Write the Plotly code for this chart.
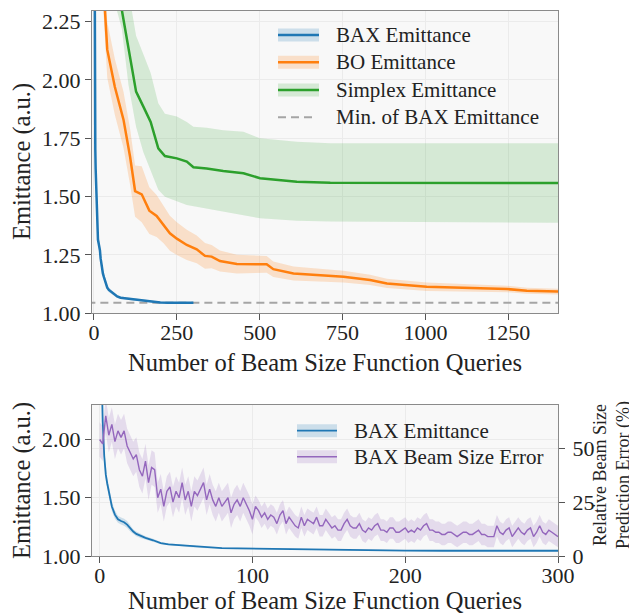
import plotly.graph_objects as go

# The page adds an 8px body margin; every layout position below is given in
# reference (viewport) pixels and shifted by that margin.
W, H, OFF = 637, 614, 8
FONT = "Liberation Serif, DejaVu Serif, Times New Roman, serif"

# ---------------- data ----------------
# BAX emittance (shared by both panels)
bax_x = [0, 1, 2, 3, 4, 5, 6, 8, 10, 12, 14, 16, 18, 20, 22, 24, 27, 30, 35, 40, 45, 50,
         60, 70, 80, 90, 100, 120, 140, 160, 180, 200, 225, 250, 275, 300]
bax_y = [3.4, 2.6, 2.15, 1.86, 1.70, 1.62, 1.56, 1.425, 1.355, 1.315, 1.30, 1.29, 1.27, 1.235,
         1.21, 1.19, 1.17, 1.155, 1.135, 1.11, 1.10, 1.095, 1.083, 1.072, 1.067, 1.065, 1.063,
         1.06, 1.057, 1.052, 1.048, 1.046, 1.045, 1.045, 1.045, 1.045]
bax_sd = [0.08, 0.07, 0.06, 0.05, 0.05, 0.045, 0.045, 0.04, 0.035, 0.03, 0.03, 0.03, 0.03, 0.025,
          0.02, 0.02, 0.018, 0.015, 0.012, 0.01, 0.01, 0.008, 0.007, 0.006, 0.006, 0.005, 0.005,
          0.005, 0.004, 0.004, 0.004, 0.003, 0.003, 0.003, 0.003, 0.003]
bax_min = 1.045

# BO emittance
bo_x = [0, 10, 20, 33, 40, 63, 89, 109, 124, 144, 167, 189, 210, 229, 250, 280, 310, 335, 355,
        380, 431, 521, 541, 602, 672, 753, 833, 884, 1004, 1135, 1246, 1306, 1400]
bo_y = [3.2, 2.8, 2.55, 2.30, 2.13, 1.97, 1.83, 1.67, 1.524, 1.51, 1.44, 1.417, 1.38, 1.343, 1.32,
        1.293, 1.274, 1.246, 1.243, 1.224, 1.211, 1.21, 1.189, 1.171, 1.164, 1.157, 1.143, 1.128,
        1.114, 1.11, 1.104, 1.097, 1.093]
bo_sd = [0.2, 0.15, 0.13, 0.12, 0.12, 0.12, 0.12, 0.12, 0.11, 0.12, 0.10, 0.09, 0.08, 0.075, 0.07,
         0.065, 0.06, 0.055, 0.05, 0.045, 0.04, 0.036, 0.033, 0.03, 0.028, 0.025, 0.022, 0.02,
         0.018, 0.016, 0.014, 0.013, 0.012]

# Simplex emittance
sx_x = [0, 40, 84, 104, 127, 149, 171, 194, 214, 250, 280, 300, 340, 390, 451, 501, 541, 612,
        713, 1000, 1400]
sx_y = [3.3, 2.7, 2.30, 2.13, 1.95, 1.886, 1.82, 1.707, 1.674, 1.664, 1.65, 1.626, 1.621, 1.61,
        1.60, 1.579, 1.574, 1.564, 1.56, 1.559, 1.558]
sx_hi = [3.5, 2.95, 2.55, 2.38, 2.19, 2.11, 2.03, 1.90, 1.855, 1.843, 1.82, 1.80, 1.795, 1.785,
         1.778, 1.75, 1.745, 1.735, 1.729, 1.729, 1.729]
sx_lo = [3.0, 2.45, 2.22, 1.98, 1.80, 1.69, 1.614, 1.53, 1.50, 1.48, 1.464, 1.458, 1.45, 1.436,
         1.42, 1.407, 1.403, 1.397, 1.393, 1.39, 1.388]

# BAX beam size prediction error (%), every 2nd query
err_x = list(range(0, 301, 2))
err_y = [54, 52, 65, 56, 61, 53, 58, 55, 58, 51,
         48, 45, 47, 40, 37, 44, 34, 41, 40, 27,
         31, 23, 30, 32, 25, 30, 27, 34, 26, 30,
         23, 30, 28, 31, 34, 26, 31, 26, 23, 27,
         23, 25, 27, 20, 24, 26, 23, 27, 24, 21,
         17, 23, 21, 18, 20, 17, 19, 18, 15, 19,
         21, 15, 18, 16, 14, 13, 18, 14, 17, 16,
         15, 18, 14, 14, 17, 15, 13, 14, 12, 12,
         15, 17, 14, 13, 13, 15, 12, 11, 13, 12,
         14, 15, 12, 12, 11, 13, 13, 11, 11, 12,
         13, 11, 12, 11, 13, 12, 14, 15, 12, 12,
         11, 11, 10, 10, 11, 11, 10, 9, 10, 11,
         11, 10, 10, 11, 12, 10, 10, 9, 9, 9,
         14, 11, 10, 12, 13, 9, 11, 13, 11, 10,
         12, 13, 9, 11, 14, 11, 10, 12, 11, 10,
         9]
err_hw = [8] * 19 + [7] * 32 + [5] * 100

top_xticks = [0, 250, 500, 750, 1000, 1250]
top_yticks = [1.00, 1.25, 1.50, 1.75, 2.00, 2.25]
bot_xticks = [0, 100, 200, 300]
bot_yticks = [1.00, 1.50, 2.00]
bot_y2ticks = [0, 25, 50]

# ---------------- styling ----------------
C_BLUE, C_ORANGE, C_GREEN, C_PURPLE = "#1f77b4", "#ff7f0e", "#2ca02c", "#9467bd"
F_BLUE = "rgba(31,119,180,0.2)"
F_ORANGE = "rgba(255,127,14,0.2)"
F_GREEN = "rgba(44,160,44,0.17)"
F_PURPLE = "rgba(148,103,189,0.2)"
GRAY_DASH = "#a5a5a5"


def px_x(p):
    return (p - OFF) / W


def px_y(p):
    return 1 - (p - OFF) / H


fig = go.Figure()


def band(x, lo, hi, color, xa, ya):
    fig.add_trace(go.Scatter(x=list(x) + list(x)[::-1], y=list(hi) + list(lo)[::-1],
                             fill="toself", fillcolor=color, line=dict(width=0),
                             mode="lines", hoverinfo="skip", showlegend=False,
                             xaxis=xa, yaxis=ya))


def line(x, y, color, width, xa, ya, dash="solid"):
    fig.add_trace(go.Scatter(x=x, y=y, mode="lines", line=dict(color=color, width=width, dash=dash),
                             showlegend=False, xaxis=xa, yaxis=ya))


# top panel
band(bax_x, [a - b for a, b in zip(bax_y, bax_sd)], [a + b for a, b in zip(bax_y, bax_sd)], F_BLUE, "x", "y")
band(bo_x, [a - b for a, b in zip(bo_y, bo_sd)], [a + b for a, b in zip(bo_y, bo_sd)], F_ORANGE, "x", "y")
band(sx_x, sx_lo, sx_hi, F_GREEN, "x", "y")
line([-20, 1420], [bax_min, bax_min], GRAY_DASH, 2, "x", "y", dash="8px,5px")
line(bax_x, bax_y, C_BLUE, 2.5, "x", "y")
line(bo_x, bo_y, C_ORANGE, 2.5, "x", "y")
line(sx_x, sx_y, C_GREEN, 2.5, "x", "y")

# bottom panel
band(bax_x, [a - b for a, b in zip(bax_y, bax_sd)], [a + b for a, b in zip(bax_y, bax_sd)], F_BLUE, "x2", "y3")
line(bax_x, bax_y, C_BLUE, 1.8, "x2", "y3")
band(err_x, [a - b for a, b in zip(err_y, err_hw)], [a + b for a, b in zip(err_y, err_hw)], F_PURPLE, "x2", "y4")
line(err_x, err_y, C_PURPLE, 1.4, "x2", "y4")

tickfont = dict(family=FONT, size=22, color="#222")
common = dict(showline=True, linecolor="#8a8a8a", linewidth=1.3, ticks="outside", ticklen=6,
              tickwidth=1.2, tickcolor="#555", showgrid=True, gridcolor="#ebebeb", gridwidth=1,
              zeroline=False, tickfont=tickfont, automargin=False)

top_dom_x = [px_x(92), px_x(558)]
top_dom_y = [px_y(313.3), px_y(10.7)]
bot_dom_y = [px_y(556), px_y(405)]

fig.update_layout(
    width=W, height=H, margin=dict(l=0, r=0, t=0, b=0, pad=0, autoexpand=False),
    paper_bgcolor="white", plot_bgcolor="#f8f8f8",
    font=dict(family=FONT, color="#222"),
    xaxis=dict(domain=top_dom_x, anchor="y", range=[-6, 1400], tickvals=top_xticks,
               mirror=True, ticklabelstandoff=-7, **common),
    yaxis=dict(domain=top_dom_y, anchor="x", range=[1.0, 2.297], tickvals=top_yticks,
               tickformat=".2f", mirror=True, **common),
    xaxis2=dict(domain=top_dom_x, anchor="y3", range=[-5, 300], tickvals=bot_xticks,
                mirror=True, ticklabelstandoff=-7, **common),
    yaxis3=dict(domain=bot_dom_y, anchor="x2", range=[1.0, 2.296], tickvals=bot_yticks,
                tickformat=".2f", **common),
    yaxis4=dict(overlaying="y3", side="right", anchor="x2", range=[0, 70], tickvals=bot_y2ticks,
                ticklabelstandoff=3, **common),
    showlegend=False,
)

ann = []
shapes = []


def text(x, y, s, size, angle=0, xanchor="center"):
    ann.append(dict(x=px_x(x), y=px_y(y), xref="paper", yref="paper", text=s, showarrow=False,
                    textangle=angle, xanchor=xanchor, yanchor="middle",
                    font=dict(family=FONT, size=size, color="#222")))


text(325, 362, "Number of Beam Size Function Queries", 24.5)
text(325, 600, "Number of Beam Size Function Queries", 24.5)
text(22, 162, "Emittance (a.u.)", 24.5, angle=-90)
text(22, 481, "Emittance (a.u.)", 24.5, angle=-90)
text(612, 475, "Relative Beam Size<br>Prediction Error (%)", 18, angle=-90)


def legend_item(y, label, color, fill, lw, x0, x1, tx, dash=None):
    if fill:
        shapes.append(dict(type="rect", xref="paper", yref="paper", x0=px_x(x0), x1=px_x(x1),
                           y0=px_y(y + 6.5), y1=px_y(y - 6.5), fillcolor=fill, line=dict(width=0)))
    ld = dict(color=color, width=lw)
    if dash:
        ld["dash"] = dash
    shapes.append(dict(type="line", xref="paper", yref="paper", x0=px_x(x0), x1=px_x(x1),
                       y0=px_y(y), y1=px_y(y), line=ld))
    text(tx, y, label, 21, xanchor="left")


legend_item(35, "BAX Emittance", C_BLUE, F_BLUE, 2.5, 278, 319, 334)
legend_item(62.3, "BO Emittance", C_ORANGE, F_ORANGE, 2.5, 278, 319, 334)
legend_item(90, "Simplex Emittance", C_GREEN, F_GREEN, 2.5, 278, 319, 334)
legend_item(117.3, "Min. of BAX Emittance", GRAY_DASH, None, 2, 278, 316, 334, dash="8px,5px")

legend_item(430.7, "BAX Emittance", C_BLUE, F_BLUE, 1.8, 297, 337, 351.7)
legend_item(456.7, "BAX Beam Size Error", C_PURPLE, F_PURPLE, 1.4, 297, 337, 351.7)

fig.update_layout(annotations=ann, shapes=shapes)

fig.write_html("out.html")
